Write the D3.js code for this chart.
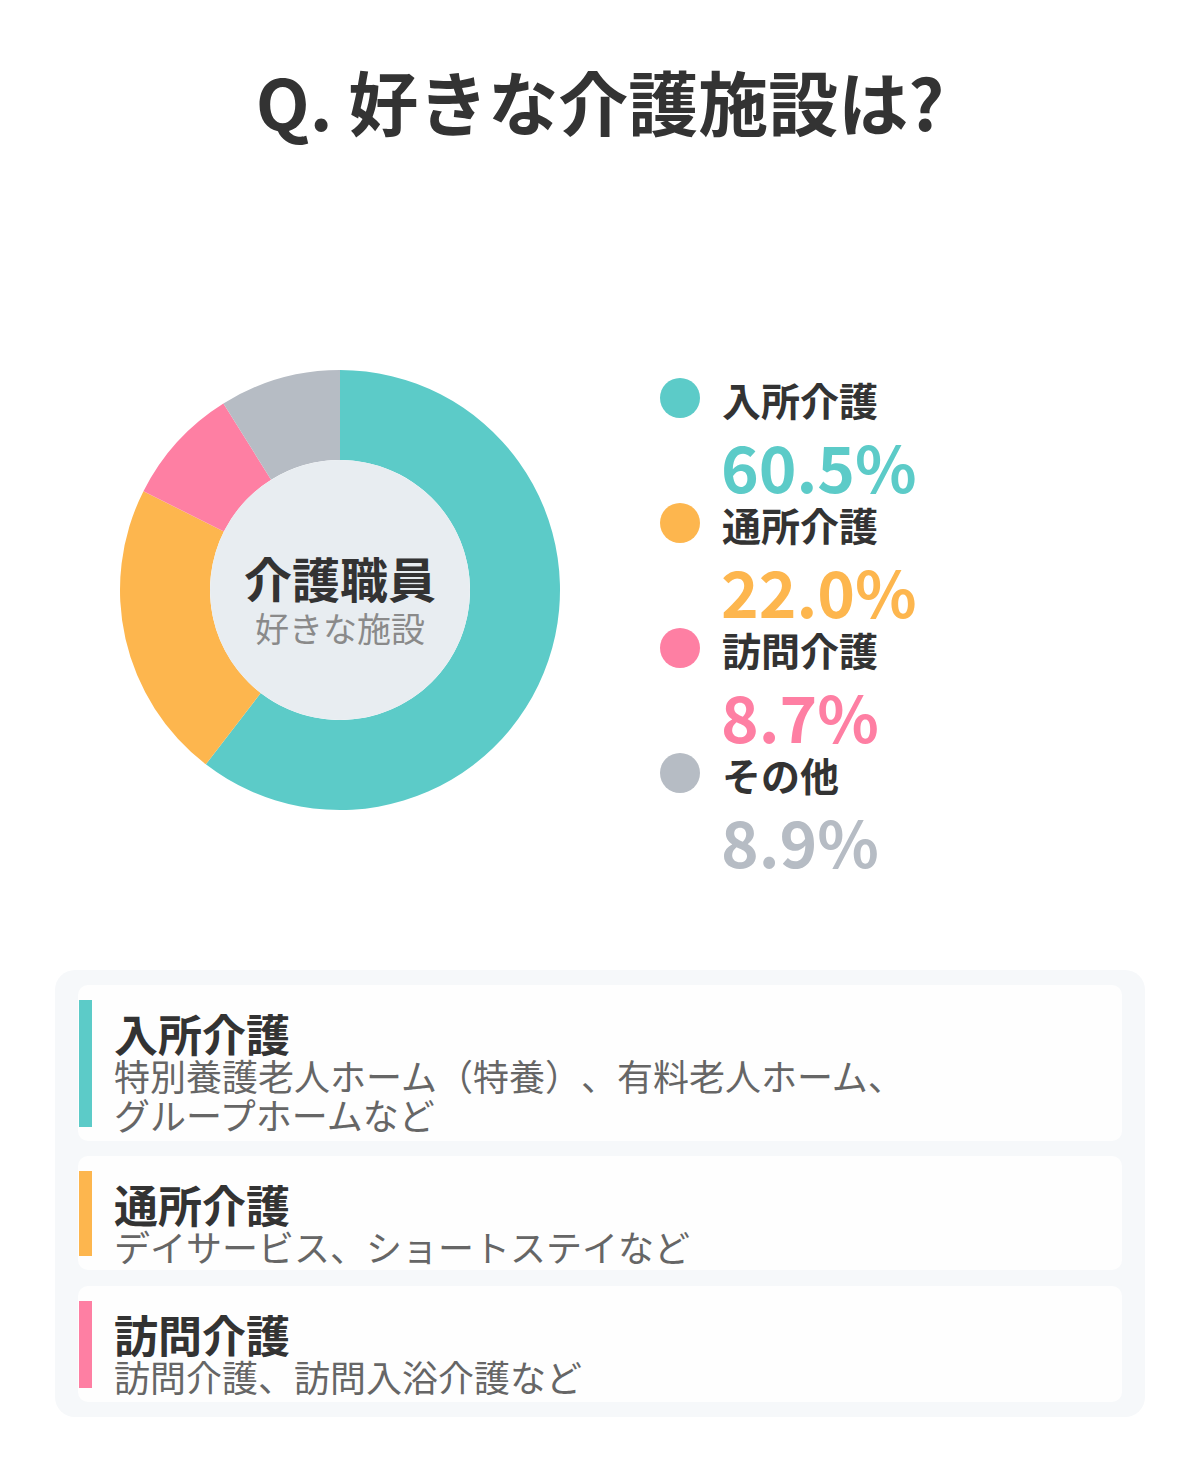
<!DOCTYPE html>
<html>
<head>
<meta charset="utf-8">
<script src="https://cdn.jsdelivr.net/npm/d3@7"></script>
<style>
  html, body { margin: 0; padding: 0; background: #fff; }
  svg { display: block; font-family: "Noto Sans CJK JP", "Noto Sans", sans-serif; text-spacing-trim: space-all; }
</style>
</head>
<body>
<div id="chart"></div>
<script>
// data
var categories = ["入所介護", "通所介護", "訪問介護", "その他"];
var shares = [60.5, 22.0, 8.7, 8.9];
var palette = ["#5ccbc8", "#fdb64e", "#fe7fa3", "#b6bcc4"];

var centerTitle = "介護職員";
var centerSub = "好きな施設";
var chartTitle = "Q. 好きな介護施設は?";

var cardTitles = ["入所介護", "通所介護", "訪問介護"];
var cardLines = [
  ["特別養護老人ホーム（特養）、有料老人ホーム、", "グループホームなど"],
  ["デイサービス、ショートステイなど"],
  ["訪問介護、訪問入浴介護など"]
];

var W = 1200, H = 1466;
var svg = d3.select("#chart").append("svg")
  .attr("width", W)
  .attr("height", H);

// title
svg.append("text")
  .attr("x", 600)
  .attr("y", 131)
  .attr("text-anchor", "middle")
  .style("font-size", "70px")
  .style("font-weight", 700)
  .style("fill", "#333")
  .text(chartTitle);

var color = d3.scaleOrdinal().domain(categories).range(palette);

// donut
var cx = 340, cy = 590, outerR = 220, innerR = 130;
var pie = d3.pie().sort(null).value(function(d) { return d.value; });
var arc = d3.arc().innerRadius(innerR).outerRadius(outerR);
var dataReady = categories.map(function(c, i) { return {name: c, value: shares[i]}; });

var donut = svg.append("g").attr("transform", "translate(" + cx + "," + cy + ")");
donut.selectAll("path")
  .data(pie(dataReady))
  .enter()
  .append("path")
    .attr("d", arc)
    .attr("fill", function(d) { return color(d.data.name); });

donut.append("circle")
  .attr("r", innerR)
  .attr("fill", "#e8edf1");

donut.append("text")
  .attr("y", 8)
  .attr("text-anchor", "middle")
  .style("font-size", "48px")
  .style("font-weight", 700)
  .style("fill", "#333")
  .text(centerTitle);

donut.append("text")
  .attr("y", 52)
  .attr("text-anchor", "middle")
  .style("font-size", "34px")
  .style("fill", "#8a8a8a")
  .text(centerSub);

// legend
var ly = d3.scaleLinear().domain([0, categories.length - 1]).range([398, 773]);
var fmt = d3.format(".1f");
var legend = svg.selectAll("g.legend")
  .data(dataReady)
  .enter()
  .append("g")
    .attr("class", "legend")
    .attr("transform", function(d, i) { return "translate(680," + ly(i) + ")"; });

legend.append("circle")
  .attr("r", 20)
  .attr("fill", function(d) { return color(d.name); });

legend.append("text")
  .attr("x", 42)
  .attr("y", 18)
  .style("font-size", "39px")
  .style("font-weight", 700)
  .style("fill", "#333")
  .text(function(d) { return d.name; });

legend.append("text")
  .attr("x", 41)
  .attr("y", 95)
  .style("font-size", "64px")
  .style("font-weight", 700)
  .style("fill", function(d) { return color(d.name); })
  .text(function(d) { return fmt(d.value) + "%"; });

// description panel
svg.append("rect")
  .attr("x", 55).attr("y", 970)
  .attr("width", 1090).attr("height", 447)
  .attr("rx", 20)
  .attr("fill", "#f6f8fa");

var cardTop = [985, 1156, 1286];
var cardH = [156, 114, 116];

var cards = svg.selectAll("g.card")
  .data(cardTitles)
  .enter()
  .append("g")
    .attr("class", "card")
    .attr("transform", function(d, i) { return "translate(78," + cardTop[i] + ")"; });

cards.append("rect")
  .attr("width", 1044)
  .attr("height", function(d, i) { return cardH[i]; })
  .attr("rx", 10)
  .attr("fill", "#fefefe");

cards.append("rect")
  .attr("x", 1)
  .attr("y", 15)
  .attr("width", 13)
  .attr("height", function(d, i) { return cardH[i] - 29; })
  .attr("fill", function(d) { return color(d); });

cards.append("text")
  .attr("x", 36)
  .attr("y", 67)
  .style("font-size", "44px")
  .style("font-weight", 700)
  .style("fill", "#333")
  .text(function(d) { return d; });

cards.each(function(d, i) {
  d3.select(this).selectAll("text.desc")
    .data(cardLines[i])
    .enter()
    .append("text")
      .attr("class", "desc")
      .attr("x", 36)
      .attr("y", function(t, j) { return 106 + j * 39; })
      .style("font-size", "36px")
      .style("fill", "#666")
      .text(function(t) { return t; });
});
</script>
</body>
</html>
